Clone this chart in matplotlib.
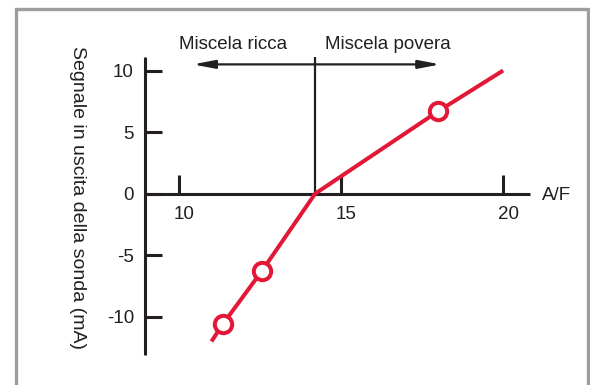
import matplotlib
matplotlib.use("Agg")
import matplotlib.pyplot as plt
from matplotlib.lines import Line2D
from matplotlib.transforms import ScaledTranslation

plt.rcParams['font.family'] = ['Liberation Sans', 'DejaVu Sans']

# Data
af_ratio = [11.0, 11.35, 12.55, 14.2, 18.0, 20.0]
signal_ma = [-12.0, -10.6, -6.3, 0.0, 6.7, 10.0]
marker_af = [11.35, 12.55, 18.0]
marker_sig = [-10.6, -6.3, 6.7]
x_ticks = [10, 15, 20]
y_ticks = [-10, -5, 0, 5, 10]
stoich_af = 14.2
rich_limit = 10.43
lean_limit = 18.06
arrow_level = 10.5

INK = '#231f20'
RED = '#e31837'
FS = 13.5

W, H = 590, 385
fig = plt.figure(figsize=(W / 100, H / 100), dpi=100)
fig.patch.set_facecolor('white')

# axes placement in pixels
left, right, top, bottom = 145, 530, 57, 355
ax = fig.add_axes([left / W, 1 - bottom / H, (right - left) / W, (bottom - top) / H])
ax.set_xlim(8.95, 20.83)
ax.set_ylim(-13.1, 11.1)
ax.patch.set_alpha(0)

for s in ['top', 'right']:
    ax.spines[s].set_visible(False)
ax.spines['bottom'].set_position(('data', 0))
for s in ['left', 'bottom']:
    ax.spines[s].set_color(INK)
    ax.spines[s].set_linewidth(2.2)
    ax.spines[s].set_capstyle('butt')

ax.set_xticks(x_ticks)
ax.set_yticks(y_ticks)
ax.set_yticklabels([str(v) for v in y_ticks])
ax.tick_params(axis='y', direction='in', length=12.5, width=2.2, color=INK,
               labelsize=FS, labelcolor=INK, pad=8)
ax.tick_params(axis='x', direction='in', length=13.5, width=2.2, color=INK,
               labelsize=FS, labelcolor=INK, pad=9)
for lab in ax.get_xticklabels():
    lab.set_transform(lab.get_transform() + ScaledTranslation(5 / 100, 0, fig.dpi_scale_trans))

# vertical stoichiometric line
ax.plot([stoich_af, stoich_af], [0, 11.1], color=INK, lw=1.6, solid_capstyle='butt', clip_on=False)

# arrows
arrow_kw = dict(arrowstyle='-|>,head_length=1.3,head_width=0.25', lw=1.6, color=INK,
                shrinkA=0, shrinkB=0, mutation_scale=10)
ax.annotate('', xy=(rich_limit, arrow_level), xytext=(stoich_af, arrow_level),
            arrowprops=arrow_kw, annotation_clip=False)
ax.annotate('', xy=(lean_limit, arrow_level), xytext=(stoich_af, arrow_level),
            arrowprops=arrow_kw, annotation_clip=False)

ax.text(11.67, 12.15, 'Miscela ricca', ha='center', va='center', fontsize=FS, color=INK, clip_on=False)
ax.text(16.44, 12.15, 'Miscela povera', ha='center', va='center', fontsize=FS, color=INK, clip_on=False)
ax.text(21.2, -0.15, 'A/F', ha='left', va='center', fontsize=FS, color=INK, clip_on=False)

# red curve
ax.plot(af_ratio, signal_ma, color=RED, lw=2.9, solid_capstyle='butt', solid_joinstyle='round',
        clip_on=False, zorder=3)
ax.plot(marker_af, marker_sig, linestyle='none', marker='o', ms=12.5, mew=2.9,
        mfc='white', mec=RED, clip_on=False, zorder=4)

# y label
fig.text(77 / W, 1 - 197 / H, 'Segnale in uscita della sonda (mA)', rotation=-90,
         ha='center', va='center', fontsize=14, color=INK)

# gray frame (open at bottom)
fx0, fx1, fy = 15.5 / W, 587.5 / W, 1 - 8.5 / H
fig.add_artist(Line2D([fx0, fx0, fx1, fx1], [0, fy, fy, 0], transform=fig.transFigure,
                      color='#9d9d9d', lw=2.4, solid_joinstyle='miter'))

fig.savefig('out.png', dpi=100, facecolor='white')
